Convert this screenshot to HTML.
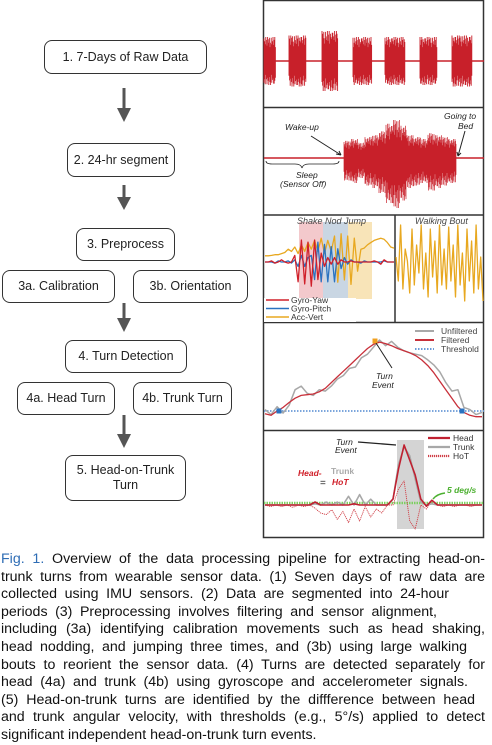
<!DOCTYPE html>
<html><head><meta charset="utf-8">
<style>
body{margin:0;width:492px;height:743px;background:#fff;overflow:hidden;font-family:"Liberation Sans",sans-serif;position:relative}
.box{position:absolute;border:1.3px solid #333;border-radius:8px;background:#fff;font-size:12.5px;color:#222;display:flex;align-items:center;justify-content:center;text-align:center;line-height:15px;box-sizing:border-box}
#caption{position:absolute;left:1px;top:551px;width:484px;font-size:14.2px;line-height:17.6px;color:#111}
#caption div{text-align:justify;text-align-last:justify;white-space:nowrap;height:17.6px}
#caption div.last{text-align-last:left}
#caption span{color:#2f6db5}
svg text{font-family:"Liberation Sans",sans-serif}
</style></head><body>
<div class="box" style="left:44px;top:40px;width:163px;height:34px">1. 7-Days of Raw Data</div>
<div class="box" style="left:67px;top:143px;width:108px;height:34px">2. 24-hr segment</div>
<div class="box" style="left:76px;top:228px;width:99px;height:33px">3. Preprocess</div>
<div class="box" style="left:2px;top:270px;width:113px;height:33px">3a. Calibration</div>
<div class="box" style="left:133px;top:270px;width:115px;height:33px">3b. Orientation</div>
<div class="box" style="left:65px;top:340px;width:122px;height:33px">4. Turn Detection</div>
<div class="box" style="left:17px;top:382px;width:98px;height:33px">4a. Head Turn</div>
<div class="box" style="left:133px;top:382px;width:99px;height:33px">4b. Trunk Turn</div>
<div class="box" style="left:65px;top:455px;width:121px;height:46px">5. Head-on-Trunk<br>Turn</div>

<svg id="fig" width="492" height="545" style="position:absolute;left:0;top:0">
<g fill="#555" stroke="#555" stroke-width="3">
<line x1="124" y1="88" x2="124" y2="112"/><polygon points="117,108 131,108 124,122" stroke="none"/>
<line x1="124" y1="185" x2="124" y2="201"/><polygon points="117,197 131,197 124,210" stroke="none"/>
<line x1="124" y1="303" x2="124" y2="322"/><polygon points="117,318 131,318 124,332" stroke="none"/>
<line x1="124" y1="415" x2="124" y2="438"/><polygon points="117,434 131,434 124,448" stroke="none"/>
</g>
<g id="panels"></g>
</svg>

<div id="caption">
<div><span>Fig. 1.</span> Overview of the data processing pipeline for extracting head-on-</div>
<div>trunk turns from wearable sensor data. (1) Seven days of raw data are</div>
<div style="width:448px">collected using IMU sensors. (2) Data are segmented into 24-hour</div>
<div style="width:436px">periods (3) Preprocessing involves filtering and sensor alignment,</div>
<div>including (3a) identifying calibration movements such as head shaking,</div>
<div style="width:466px">head nodding, and jumping three times, and (3b) using large walking</div>
<div>bouts to reorient the sensor data. (4) Turns are detected separately for</div>
<div style="width:467px">head (4a) and trunk (4b) using gyroscope and accelerometer signals.</div>
<div style="width:474px">(5) Head-on-trunk turns are identified by the diffference between head</div>
<div>and trunk angular velocity, with thresholds (e.g., 5°/s) applied to detect</div>
<div class="last">significant independent head-on-trunk turn events.</div>
</div>

<script>
// ---- data ----
const noisePattern=[0.9,-0.7,0.5,-1,0.8,-0.4,1,-0.85,0.6,-0.95,0.3,-0.6,0.95,-0.5,0.7,-1,0.45,-0.8,1,-0.3,0.85,-0.65,0.55,-0.9];
const weekBursts=[[264,276,0.8],[289,306,0.85],[322,338,1],[353,372,0.8],[385,405,0.8],[420,437,0.8],[452,472,0.85]];
const dayEnvelope=[0.45,0.5,0.4,0.55,0.6,0.7,0.9,1,0.85,0.6,0.55,0.5,0.65,0.6,0.55,0.5];
const yawSig=[0,0,0.05,-0.05,0,0.1,0,-0.05,0,0.3,-0.9,1,-1,0.9,-1.1,1,-0.8,0.4,-0.2,0.2,-0.1,0.2,-0.1,0.1,0,0,0.05,0,0,0,0,0,0,0.05,0,-0.1,0.1,0,0,0];
const pitchSig=[0,0,0,-0.05,0.05,0,0,0.05,-0.05,0.1,-0.2,0.3,-0.2,0.2,0.3,-0.8,0.9,-0.9,0.8,-0.9,0.7,-0.9,0.6,-0.3,0.2,-0.1,0.1,0,0,-0.05,0.05,0,0,0,0,0,0.05,0,0,0];
const accSig=[0.1,0.1,0.12,0.15,0.15,0.2,0.25,0.4,0.3,0.5,0.2,0.6,0.3,0.7,0.4,0.8,0.3,0.9,0.2,0.8,0.3,1,-1.1,1.1,-1,1,-1.2,0.9,-0.6,0.4,0.45,0.6,0.7,0.8,0.85,0.9,0.85,0.7,0.5,0.45];
const walkSig=[0.2,-0.4,1,-0.6,0.4,0.1,-0.7,0.9,-0.5,0.5,-0.2,1,-0.6,0.3,-0.8,0.9,-0.3,0.6,-0.7,1,-0.5,0.4,-0.6,0.95,-0.4,0.5,-0.8,1,-0.5,0.3,-0.9,0.9,-0.4,0.6,-0.7,1,-0.6,0.2,-0.9];
const unfilt=[0.02,-0.05,0.06,-0.03,0.08,0.3,0.35,0.25,0.22,0.3,0.28,0.35,0.45,0.5,0.6,0.62,0.75,0.8,0.9,1,0.92,0.98,0.9,0.85,0.82,0.8,0.78,0.72,0.65,0.55,0.4,0.28,0.3,0.05,0.02,-0.05,-0.02];
const filt=[-0.04,-0.06,0.0,0.05,0.12,0.18,0.22,0.23,0.24,0.27,0.32,0.4,0.48,0.56,0.64,0.72,0.8,0.88,0.94,0.97,0.95,0.92,0.88,0.85,0.82,0.78,0.72,0.64,0.54,0.42,0.3,0.18,0.06,-0.02,-0.06,-0.08,-0.08];
const headSig=[0,0,0,0,0,0,0,0,0,0.05,0,0,0,0,0,0,0.02,0,0,0,0,0,0,0.1,0.6,1,0.75,0.5,0.1,-0.02,0.08,0,0,0,0,0,0,0,0,0];
const trunkSig=[0,0,0,0,0,0,0,0,0,0.02,0,0.05,0,0.05,0,0.15,0,0.18,0,0.1,0,0,0,0.1,0.7,1,0.85,0.45,0.05,0,0.02,0,0,0,0,0,0,0,0,0];
const hotSig=[0,-0.02,0,-0.02,0,-0.03,0,-0.02,0,-0.04,-0.1,-0.12,-0.06,-0.18,-0.08,-0.22,-0.05,-0.2,-0.02,-0.15,-0.05,-0.1,0,0,0.2,0.3,-0.2,-0.3,0,-0.05,0.05,0,-0.02,0,-0.02,0,0,-0.02,0,0];

const NS='http://www.w3.org/2000/svg';
const G=document.getElementById('panels');
function el(tag,attrs,parent){const e=document.createElementNS(NS,tag);for(const k in attrs)e.setAttribute(k,attrs[k]);(parent||G).appendChild(e);return e;}
function poly(arr,x0,x1,y0,amp,color,w,name,dash){
  const pts=arr.map((v,i)=>(x0+(x1-x0)*i/(arr.length-1)).toFixed(1)+','+(y0-v*amp).toFixed(1)).join(' ');
  const p=el('polyline',{points:pts,fill:'none',stroke:color,'stroke-width':w,'stroke-linejoin':'round'});
  if(dash)p.setAttribute('stroke-dasharray',dash);
  
  
  return p;
}
function txt(x,y,s,opts,name){const t=el('text',Object.assign({x:x,y:y,'font-size':9,fill:'#222'},opts||{}));t.textContent=s;return t;}

const frame=el('rect',{x:263.5,y:0.5,width:220,height:537,fill:'none',stroke:'#333','stroke-width':1.5});


[107.5,215,322.5,430.5].forEach(y=>{const l=el('line',{x1:263,x2:484,y1:y,y2:y,stroke:'#333','stroke-width':1.5});});
const vd=el('line',{x1:395,x2:395,y1:215,y2:322,stroke:'#333','stroke-width':1.5});



// panel 1
const b1=el('line',{x1:264,x2:484,y1:61,y2:61,stroke:'#c8202a','stroke-width':1.5});


weekBursts.forEach((b,bi)=>{
  let d='';let k=bi*3;
  for(let x=b[0];x<=b[1];x+=0.6){const a=noisePattern[k%noisePattern.length];const a2=noisePattern[(k+7)%noisePattern.length];k++;
    d+=`M${x.toFixed(1)},${(61-(0.4+0.6*Math.abs(a))*30*b[2]).toFixed(1)}L${x.toFixed(1)},${(61+(0.4+0.6*Math.abs(a2))*30*b[2]).toFixed(1)}`;}
  const p=el('path',{d:d,stroke:'#c8202a','stroke-width':0.9,fill:'none'});
  
  
});
// panel 2
const b2=el('line',{x1:264,x2:484,y1:158,y2:158,stroke:'#c8202a','stroke-width':1.5});


{let d='';let k=0;const x0=344,x1=456;
for(let x=x0;x<=x1;x+=0.5){const e=dayEnvelope[Math.min(dayEnvelope.length-1,Math.floor((x-x0)/(x1-x0)*dayEnvelope.length))];
const a=noisePattern[k%noisePattern.length],a2=noisePattern[(k+5)%noisePattern.length];k++;
d+=`M${x},${(158-(0.35+0.65*Math.abs(a))*38*e).toFixed(1)}L${x},${(158+(0.35+0.65*Math.abs(a2))*50*e).toFixed(1)}`;}
const p=el('path',{d:d,stroke:'#c8202a','stroke-width':0.7,fill:'none'});}
txt(285,130,'Wake-up',{'font-style':'italic','font-size':8.5},'wake-up-label');
txt(444,119,'Going to',{'font-style':'italic','font-size':8.5},'going-to-bed-label');
txt(458,129,'Bed',{'font-style':'italic','font-size':8.5},'going-to-bed-label-2');
const a1=el('path',{d:'M311,136L341,155M341,155l-5,-1M341,155l-2,-4M465,131L458,156M458,156l-1,-4M458,156l3,-3',stroke:'#222','stroke-width':1,fill:'none'});


const br=el('path',{d:'M266,161q0,3 6,3h23q6,0 7,4q1,-4 7,-4h24q6,0 6,-3',stroke:'#222','stroke-width':0.8,fill:'none'});


txt(296,178,'Sleep',{'font-style':'italic','font-size':8.5},'sleep-label');
txt(280,187,'(Sensor Off)',{'font-style':'italic','font-size':8.5},'sensor-off-label');

// panel 3
[['#f3c9cc',299,323,'shake-band'],['#c9d6e3',323,348,'nod-band'],['#f8e4b8',348,372,'jump-band']].forEach(c=>{const r=el('rect',{x:c[1],y:222,width:c[2]-c[1],height:77,fill:c[0]});});
poly(accSig,265,394,258,22,'#e8a820',1.3,'acc-vert-line');
poly(pitchSig,265,394,262,22,'#2a72c0',1.3,'gyro-pitch-line');
poly(yawSig,265,394,262,22,'#d0202a',1.3,'gyro-yaw-line');
txt(297,224,'Shake  Nod  Jump',{'font-style':'italic','font-size':9,fill:'#444'},'calibration-labels');
txt(415,224,'Walking Bout',{'font-style':'italic','font-size':9,fill:'#444'},'walking-bout-label');
poly(walkSig,396,483,265,40,'#e8a820',1.3,'walking-acc-line');
const legW=el('rect',{x:264,y:298,width:92,height:24,fill:'#fff'});
[['#d0202a','Gyro-Yaw',303],['#2a72c0','Gyro-Pitch',311.5],['#e8a820','Acc-Vert',320]].forEach((l,i)=>{
  const ln=el('line',{x1:266,x2:289,y1:l[2]-3,y2:l[2]-3,stroke:l[0],'stroke-width':1.5});
  txt(291,l[2],l[1],{'font-size':8.5,fill:'#333'},'legend-entry-'+i);
});

// panel 4
const th=el('line',{x1:264,x2:484,y1:411,y2:411,stroke:'#6a9ad8','stroke-width':1.8,'stroke-dasharray':'1.5,1.5'});

poly(unfilt,265,482,411,71,'#a8a8a8',1.5,'unfiltered-line');
poly(filt,265,482,411,71,'#c8303a',1.3,'filtered-line');
[[279,411,'#2a72c0'],[462,411,'#2a72c0'],[375,341,'#f0a020']].forEach((p,i)=>{const r=el('rect',{x:p[0]-2.5,y:p[1]-2.5,width:5,height:5,fill:p[2]});});
const ta=el('line',{x1:376,y1:343,x2:392,y2:368,stroke:'#222','stroke-width':1});
txt(376,379,'Turn',{'font-style':'italic','font-size':8.5},'turn-event-label');
txt(372,388,'Event',{'font-style':'italic','font-size':8.5},'turn-event-label-2');
[['#a8a8a8','Unfiltered',334,''],['#c8303a','Filtered',343,''],['#6a9ad8','Threshold',352,'1.5,1.5']].forEach((l,i)=>{
  const ln=el('line',{x1:415,x2:434,y1:l[2]-3,y2:l[2]-3,stroke:l[0],'stroke-width':2});if(l[3])ln.setAttribute('stroke-dasharray',l[3]);
  
  txt(441,l[2],l[1],{'font-size':8.5,fill:'#444'},'turn-legend-entry-'+i);
});

// panel 5
const gb=el('rect',{x:397,y:440,width:27,height:89,fill:'#d4d4d4'});
const gl=el('line',{x1:264,x2:484,y1:503,y2:503,stroke:'#7cd060','stroke-width':2.5,'stroke-dasharray':'1.5,1'});
poly(hotSig,265,482,505,80,'#d04048',0.9,'hot-line','1.2,0.8');
poly(trunkSig,265,482,505,58,'#a8a8a8',1.6,'trunk-line');
poly(headSig,265,482,505,60,'#c02030',1.6,'head-line');
const te=el('line',{x1:358,y1:442,x2:396,y2:445,stroke:'#222','stroke-width':1.3});
txt(336,445,'Turn',{'font-style':'italic','font-size':8.5},'hot-turn-label');
txt(335,453,'Event',{'font-style':'italic','font-size':8.5},'hot-turn-label-2');
txt(298,476,'Head-',{'font-style':'italic','font-weight':'bold','font-size':8.5,fill:'#d0202a'},'formula-head');
txt(331,474,'Trunk',{'font-size':8.5,fill:'#aaa','font-weight':'bold'},'formula-trunk');
txt(320,486,'=',{'font-size':10},'formula-equals');
txt(332,485,'HoT',{'font-style':'italic','font-weight':'bold','font-size':8.5,fill:'#d0202a'},'formula-hot');
txt(447,493,'5 deg/s',{'font-style':'italic','font-weight':'bold','font-size':8.5,fill:'#4cb030'},'threshold-label');
const ga=el('path',{d:'M445,493q-8,1 -12,6',stroke:'#4cb030','stroke-width':1.5,fill:'none'});
[['#c02030','Head',441,''],['#a8a8a8','Trunk',450,''],['#d04048','HoT',459,'1.2,0.8']].forEach((l,i)=>{
  const ln=el('line',{x1:428,x2:450,y1:l[2]-3,y2:l[2]-3,stroke:l[0],'stroke-width':2.2});if(l[3])ln.setAttribute('stroke-dasharray',l[3]);
  
  txt(453,l[2],l[1],{'font-size':8.5,fill:'#333'},'hot-legend-entry-'+i);
});
</script>
</body></html>
